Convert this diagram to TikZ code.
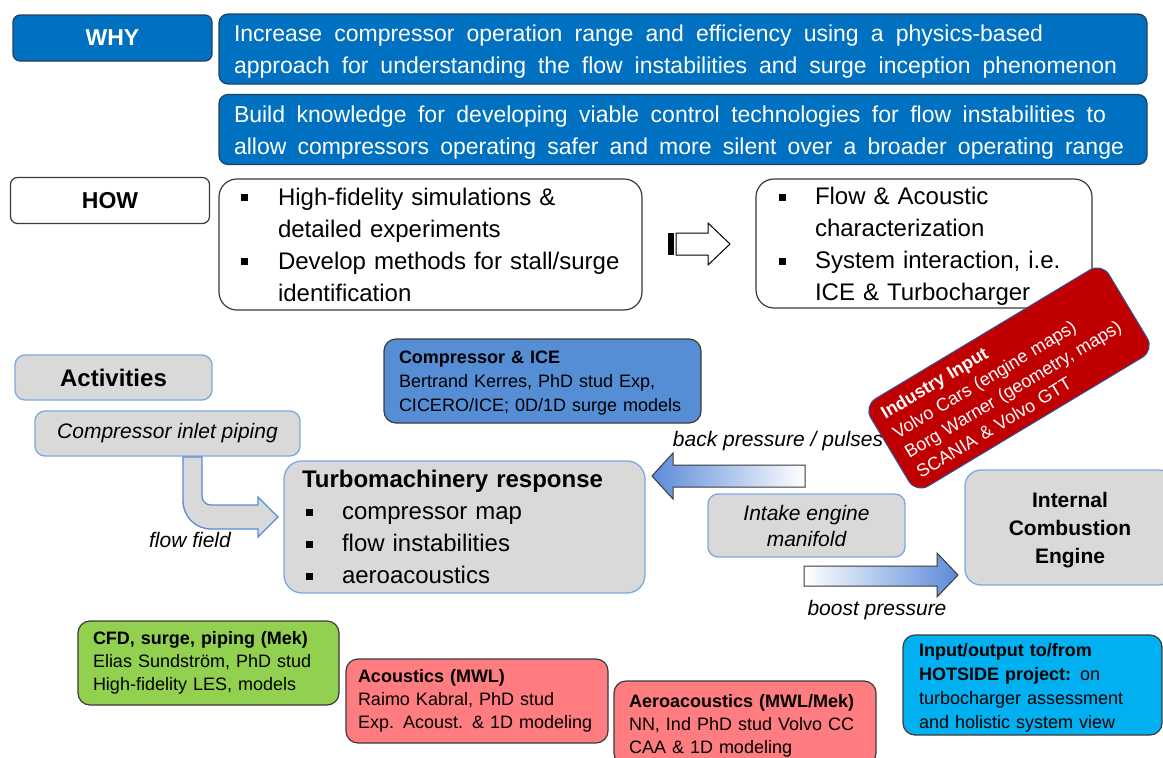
\documentclass[tikz,border=0pt]{standalone}
\usepackage{fontspec}
\setmainfont{Liberation Sans}
\definecolor{cBlue}{HTML}{0070C0}
\definecolor{cNavy}{HTML}{243F60}
\definecolor{cEdge}{HTML}{3A3A3A}
\definecolor{cGrayF}{HTML}{D9D9D9}
\definecolor{cLB}{HTML}{79A9E0}
\definecolor{cMid}{HTML}{558ED5}
\definecolor{cGreen}{HTML}{92D050}
\definecolor{cPink}{HTML}{FF7C80}
\definecolor{cCyan}{HTML}{00B0F0}
\definecolor{cRed}{HTML}{C00000}
\definecolor{cRedEdge}{HTML}{2E5597}
\definecolor{cArr}{HTML}{5B8BD8}
\newcommand{\myfs}[2]{\fontsize{#1}{#2}\selectfont}
\newcommand{\bul}[1]{\makebox[#1][l]{\rule[4pt]{7pt}{7pt}}}
\newcommand{\jl}[2]{\makebox[#1][s]{\spaceskip=0.278em plus 1fil\relax #2}}
\newcommand{\tst}[1]{\rule{0pt}{#1}}
\begin{document}
\begin{tikzpicture}[x=1pt,y=-1pt,
  band/.style={draw=cNavy, line width=1.2pt, fill=cBlue, rounded corners=9pt, text=white,
    font=\myfs{23}{32}, inner xsep=15pt, inner ysep=0pt, text width=898pt, minimum height=70pt, align=left},
  tag/.style={minimum width=199pt, minimum height=46pt, rounded corners=7pt, line width=1.2pt,
    font=\bfseries\myfs{23}{28}, inner sep=0pt},
  howbox/.style={draw=cEdge, line width=1.2pt, fill=white, rounded corners=18pt,
    font=\myfs{24}{32}, inner ysep=0pt, align=left},
  graybox/.style={draw=cLB, line width=1.3pt, fill=cGrayF, rounded corners=10pt, inner sep=0pt},
  infobox/.style={draw=cEdge, line width=1.2pt, rounded corners=12pt, font=\myfs{18}{23},
    inner ysep=0pt, align=left},
  lbl/.style={font=\itshape\myfs{21}{26}, inner sep=0pt},
  blockarrow/.style={draw=cEdge, line width=1pt}
]
\useasboundingbox (0,0) rectangle (1163,758);

% WHY
\node[tag, fill=cBlue, draw=cNavy, text=white] (why) at (112.5,38) {WHY};
\node[band] (inc) at (683,49) {\tst{22pt}\jl{809pt}{Increase compressor operation range and efficiency using a physics-based}\\\jl{883pt}{approach for understanding the flow instabilities and surge inception phenomenon}};
\node[band] (bld) at (683,129.5) {\tst{22pt}\jl{872pt}{Build knowledge for developing viable control technologies for flow instabilities to}\\\jl{890pt}{allow compressors operating safer and more silent over a broader operating range}};

% HOW
\node[tag, fill=white, draw=cEdge, text=black] (how) at (110,200.5) {HOW};
\node[howbox, text width=379pt, inner xsep=22pt, minimum height=131pt] (hl) at (430.5,244.5)
  {\bul{37pt}High-fidelity simulations \&\\\hspace*{37pt}detailed experiments\\\bul{37pt}Develop methods for stall/surge\\\hspace*{37pt}identification};
\node[howbox, text width=290pt, inner xsep=23pt, minimum height=129pt] (hr) at (924,243.5)
  {\tst{23.5pt}\bul{36pt}Flow \& Acoustic\\\hspace*{36pt}characterization\\\bul{36pt}System interaction, i.e.\\\hspace*{36pt}ICE \& Turbocharger};
\draw[line width=1pt, fill=white] (676,233) -- (708,233) -- (708,223) -- (730,244) -- (708,265) -- (708,255) -- (676,255) -- cycle;
\fill[black] (668,233) rectangle (674,255);

% Activities
\node[graybox, minimum width=197pt, minimum height=45pt, font=\bfseries\myfs{24}{28}] (act) at (113.5,377.5) {Activities};
\node[graybox, minimum width=265pt, minimum height=45pt, font=\itshape\myfs{21}{26}] (inlet) at (167.5,433.5) {Compressor inlet piping};
\draw[draw=cMid, line width=1.3pt, fill=cGrayF]
  (183,457) -- (183,501) .. controls (183,516.5) and (195.5,529) .. (211,529) -- (258,529) -- (258,537)
  -- (278,517) -- (258,497) -- (258,505) -- (211,505) .. controls (206,505) and (202,501) .. (202,496) -- (202,457) -- cycle;
\node[lbl] (ff) at (190,540) {flow field};

\node[graybox, rounded corners=18pt, text width=325pt, inner xsep=18pt, minimum height=132pt, font=\myfs{24}{32}, align=left] (turbo) at (464.5,527)
  {\textbf{Turbomachinery response}\\\hspace*{4pt}\bul{36pt}compressor map\\\hspace*{4pt}\bul{36pt}flow instabilities\\\hspace*{4pt}\bul{36pt}aeroacoustics};

\node[infobox, fill=cMid, text width=287pt, inner xsep=15pt, minimum height=84pt, font=\myfs{18}{24}] (cice) at (542.5,381)
  {\tst{16.5pt}\textbf{Compressor \& ICE}\\Bertrand Kerres, PhD stud Exp,\\CICERO/ICE; 0D/1D surge models};

\node[lbl] (bp) at (778,441) {back pressure / pulses};
\draw[blockarrow, left color=cArr, right color=white] (805,465) -- (673,465) -- (673,453) -- (652,476) -- (673,499) -- (673,487) -- (805,487) -- cycle;

\node[graybox, minimum width=197pt, minimum height=63pt, font=\itshape\myfs{21}{26}, align=center] (intake) at (806.5,525.5) {Intake engine\\manifold};

\draw[blockarrow, left color=white, right color=cArr] (804,566) -- (937,566) -- (937,553) -- (958,575) -- (937,597) -- (937,586) -- (804,586) -- cycle;
\node[lbl] (bst) at (877,610) {boost pressure};

\node[graybox, rounded corners=16pt, minimum width=210pt, minimum height=115pt, font=\bfseries\myfs{21}{28}, align=center] (ice) at (1070,527.5) {\tst{21pt}Internal\\Combustion\\Engine};

\node[draw=cRedEdge, line width=1pt, fill=cRed, rounded corners=14pt, rotate=31, minimum height=102pt,
  text width=254pt, inner xsep=12pt, inner ysep=0pt, text=white, font=\myfs{18}{23}, align=left] (ind) at (1009,378)
  {\textbf{Industry Input}\\Volvo Cars (engine maps)\\Borg Warner (geometry, maps)\\SCANIA \& Volvo GTT};

% bottom boxes
\node[infobox, fill=cGreen, text width=231pt, inner xsep=15pt, minimum height=84pt] (cfd) at (208.5,663)
  {\textbf{CFD, surge, piping (Mek)}\\Elias Sundström, PhD stud\\High-fidelity LES, models};
\node[infobox, fill=cPink, text width=238pt, inner xsep=12pt, minimum height=84pt] (acou) at (477,701)
  {\textbf{Acoustics (MWL)}\\Raimo Kabral, PhD stud\\Exp. Acoust. \& 1D modeling};
\node[infobox, fill=cPink, text width=232pt, inner xsep=15pt, minimum height=84pt] (aero) at (745,723)
  {\tst{19pt}\textbf{Aeroacoustics (MWL/Mek)}\\NN, Ind PhD stud Volvo CC\\CAA \& 1D modeling};
\node[infobox, fill=cCyan, text width=227pt, inner xsep=16pt, minimum height=100pt, font=\myfs{18}{24}] (hot) at (1032.5,685)
  {\tst{18.5pt}\textbf{Input/output to/from}\\\textbf{HOTSIDE project:} on\\turbocharger assessment\\and holistic system view};
\end{tikzpicture}
\end{document}
